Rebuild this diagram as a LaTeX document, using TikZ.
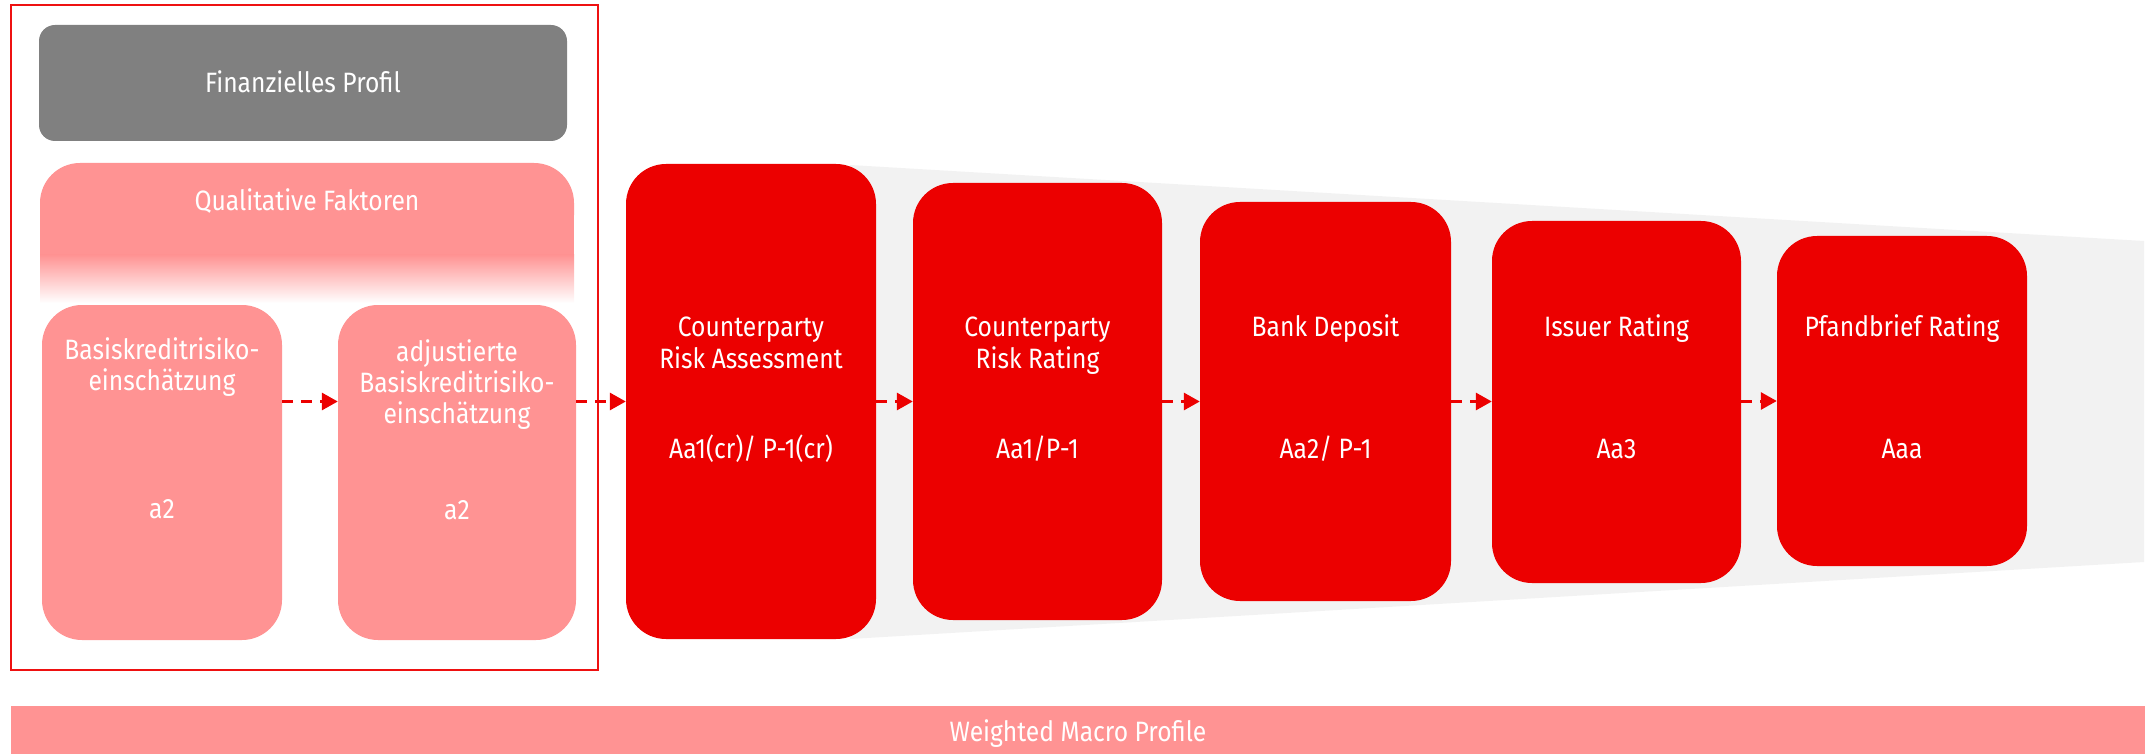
\documentclass[tikz,border=0pt]{standalone}
\usepackage{fontspec}
\setmainfont{Fira Sans}[FakeStretch=0.88]
\usetikzlibrary{arrows.meta}
\definecolor{boxred}{HTML}{EC0000}
\definecolor{framered}{HTML}{EE1111}
\definecolor{boxpink}{HTML}{FF9393}
\definecolor{boxgray}{HTML}{808080}
\definecolor{fanGray}{HTML}{F2F2F2}
\tikzset{
  redbox/.style={rectangle, rounded corners=40pt, fill=boxred, draw=none, inner sep=0pt},
  pinkbox/.style={rectangle, rounded corners=40pt, fill=boxpink, draw=none, inner sep=0pt},
  graybox/.style={rectangle, rounded corners=16pt, fill=boxgray, draw=none, inner sep=0pt},
  lbl/.style={text=white, font=\fontsize{28}{32}\selectfont, anchor=base, inner sep=0pt},
  flow/.style={draw=boxred, line width=3pt, dash pattern=on 11pt off 8pt,
    -{Triangle[length=16pt,width=17pt]}},
  frame/.style={draw=framered, line width=2.5pt}
}
\begin{document}
\begin{tikzpicture}[x=1pt,y=-1pt]
\useasboundingbox (0,0) rectangle (2156,754);
% funnel background
\fill[fanGray] (850,165) -- (2144,241) -- (2144,562) -- (850,639) -- cycle;
% frame
\draw[frame] (11,5) rectangle (598,670);
% Finanzielles Profil
\node[graybox, minimum width=528pt, minimum height=116pt] (fp) at (303,83) {};
\node[lbl] (fpt) at (303,93) {Finanzielles Profil};
% Qualitative Faktoren (fading)
\fill[boxpink, rounded corners=40pt] (40,163) rectangle (574,255);
\fill[boxpink] (40,205) rectangle (574,255.5);
\shade[top color=boxpink, bottom color=white] (40,255) rectangle (574,303);
\node[lbl] (qft) at (307,211) {Qualitative Faktoren};
% pink boxes
\node[pinkbox, minimum width=240pt, minimum height=335pt] (basis) at (162,472.5) {};
\node[lbl] (b1) at (162,359) {Basiskreditrisiko-};
\node[lbl] (b2) at (162,390) {einschätzung};
\node[lbl] (b3) at (162,518) {a2};
\node[pinkbox, minimum width=238pt, minimum height=335pt] (adj) at (457,472.5) {};
\node[lbl] (a1) at (457,361) {adjustierte};
\node[lbl] (a2) at (457,392) {Basiskreditrisiko-};
\node[lbl] (a3) at (457,423) {einschätzung};
\node[lbl] (a4) at (457,519) {a2};
% red boxes
\node[redbox, minimum width=250pt, minimum height=475pt] (cra) at (751,401.5) {};
\node[lbl] (c1) at (751,336) {Counterparty};
\node[lbl] (c2) at (751,368) {Risk Assessment};
\node[lbl] (c3) at (751,458) {Aa1(cr)/ P-1(cr)};
\node[redbox, minimum width=249pt, minimum height=437pt] (crr) at (1037.5,401.5) {};
\node[lbl] (r1) at (1037.5,336) {Counterparty};
\node[lbl] (r2) at (1037.5,368) {Risk Rating};
\node[lbl] (r3) at (1037.5,458) {Aa1/P-1};
\node[redbox, minimum width=251pt, minimum height=399pt] (bd) at (1325.5,401.5) {};
\node[lbl] (d1) at (1325.5,336) {Bank Deposit};
\node[lbl] (d2) at (1325.5,458) {Aa2/ P-1};
\node[redbox, minimum width=249pt, minimum height=362pt] (ir) at (1616.5,402) {};
\node[lbl] (i1) at (1616.5,336) {Issuer Rating};
\node[lbl] (i2) at (1616.5,458) {Aa3};
\node[redbox, minimum width=250pt, minimum height=330pt] (pf) at (1902,401) {};
\node[lbl] (p1) at (1902,336) {Pfandbrief Rating};
\node[lbl] (p2) at (1902,458) {Aaa};
% arrows
\draw[flow] (basis.east |- cra.west) -- (adj.west |- cra.west);
\draw[flow] (adj.east |- cra.west) -- (cra.west);
\draw[flow] (cra.east) -- (crr.west |- cra.east);
\draw[flow] (crr.east) -- (bd.west |- crr.east);
\draw[flow] (bd.east) -- (ir.west |- bd.east);
\draw[flow] (ir.east |- pf.west) -- (pf.west);
% bottom bar
\node[rectangle, fill=boxpink, inner sep=0pt, minimum width=2134pt, minimum height=48pt] (wmp) at (1078,730) {};
\node[lbl] (wmpt) at (1078,741) {Weighted Macro Profile};
\end{tikzpicture}
\end{document}
